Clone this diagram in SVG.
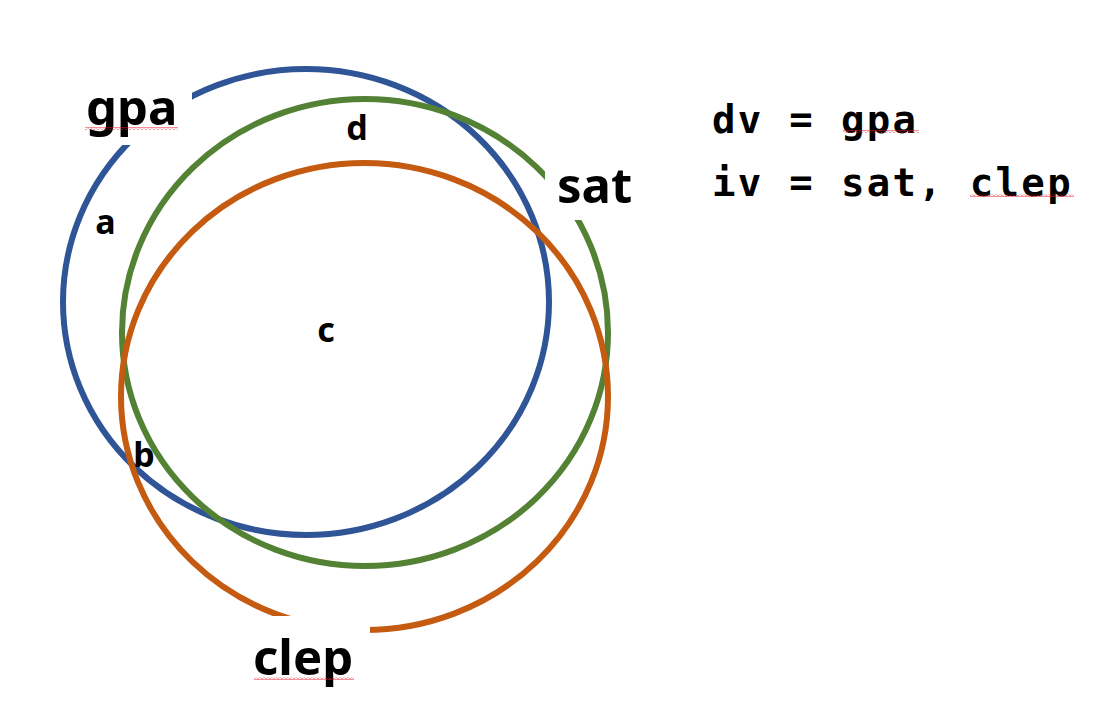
<svg xmlns="http://www.w3.org/2000/svg" width="1110" height="716" viewBox="0 0 1110 716">
<style>
.ring{fill:none;stroke-width:6}
.big{font-family:"Noto Sans","Liberation Sans",sans-serif;font-weight:bold;font-size:49px;fill:#000}
.small{font-family:"Noto Sans","Liberation Sans",sans-serif;font-weight:bold;font-size:34px;fill:#000;text-anchor:middle}
.mono{font-family:"DejaVu Sans Mono","Liberation Mono",monospace;font-weight:bold;font-size:39px;letter-spacing:2.3px;fill:#000}
.mask{fill:#fff}
.sq{fill:url(#squiggle)}
</style>
<defs>
<pattern id="squiggle" patternUnits="userSpaceOnUse" width="4" height="3">
<path d="M0 2.5 L2 0.5 L4 2.5" fill="none" stroke="#e8202a" stroke-width="1"/>
</pattern>
</defs>
<rect width="1110" height="716" fill="#fff"/>
<g id="gpa-circle"><ellipse class="ring" cx="306" cy="302" rx="243" ry="233" stroke="#2F5597"/></g>
<g id="sat-circle"><ellipse class="ring" cx="365" cy="332.5" rx="243" ry="233.5" stroke="#548235"/></g>
<g id="clep-circle"><ellipse class="ring" cx="364.5" cy="396.5" rx="243.5" ry="233.5" stroke="#C55A11"/></g>
<g id="gpa-label">
<rect class="mask" x="78" y="78" width="114" height="67"/>
<text class="big" x="86" y="125">gpa</text>
<rect class="sq" x="85" y="127" width="93" height="3"/>
</g>
<g id="sat-label">
<rect class="mask" x="545" y="158" width="95" height="62"/>
<text class="big" x="557" y="203">sat</text>
</g>
<g id="clep-label">
<rect class="mask" x="250" y="616" width="120" height="80"/>
<text class="big" x="253" y="675">clep</text>
<rect class="sq" x="254" y="677" width="100" height="3"/>
</g>
<g id="region-labels">
<text class="small" x="105.5" y="234">a</text>
<text class="small" x="144" y="467">b</text>
<text class="small" x="326" y="342">c</text>
<text class="small" x="357" y="140">d</text>
</g>
<g id="legend">
<text class="mono" x="712" y="133">dv = gpa</text>
<text class="mono" x="712" y="196">iv = sat, clep</text>
<rect class="sq" x="843" y="130" width="76" height="3"/>
<rect class="sq" x="970" y="194" width="104" height="3"/>
</g>
<g id="connectors"></g>
</svg>
